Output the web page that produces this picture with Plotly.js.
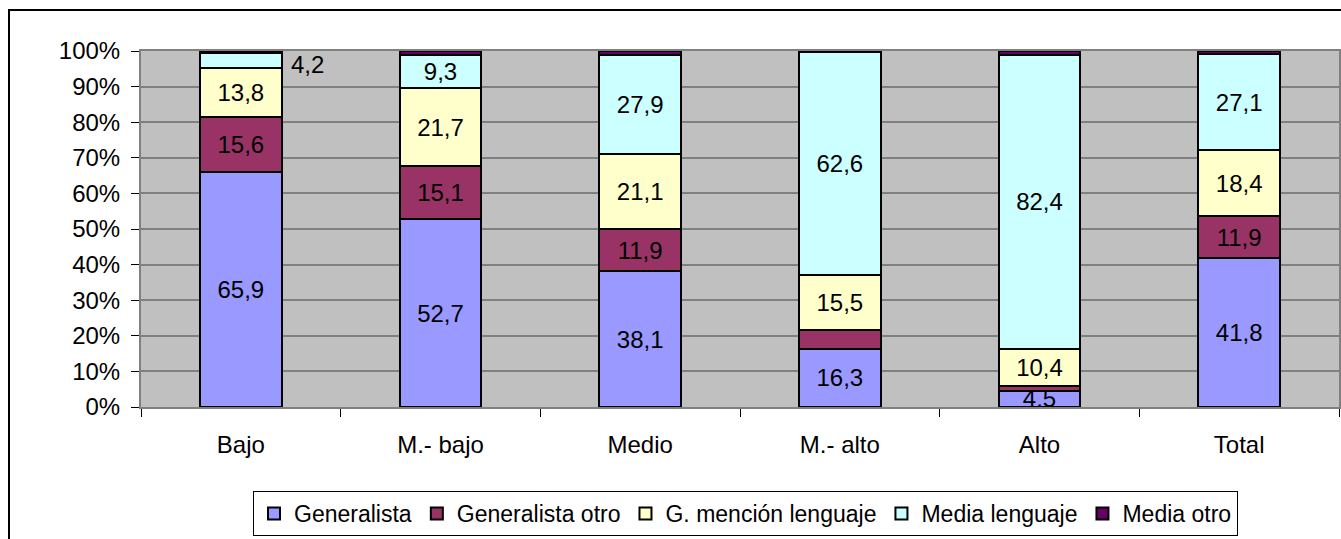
<!DOCTYPE html>
<html>
<head>
<meta charset="utf-8">
<script src="https://cdn.plot.ly/plotly-3.0.1.min.js"></script>
<style>
html,body{margin:0;padding:0;background:#fff;}
#wrap{position:relative;width:1341px;height:539px;}
#chart{width:1341px;height:539px;}
#frame{position:absolute;left:8px;top:9px;width:1400px;height:600px;border-left:2px solid #000;border-top:2px solid #000;pointer-events:none;}
</style>
</head>
<body>
<div id="wrap"><div id="chart"></div><div id="frame"></div></div>
<script>
var categories = ["Bajo", "M.- bajo", "Medio", "M.- alto", "Alto", "Total"];
var generalista      = [65.9, 52.7, 38.1, 16.3, 4.5, 41.8];
var generalistaOtro  = [15.6, 15.1, 11.9, 5.4, 1.5, 11.9];
var gMencion         = [13.8, 21.7, 21.1, 15.5, 10.4, 18.4];
var mediaLenguaje    = [4.2, 9.3, 27.9, 62.6, 82.4, 27.1];
var mediaOtro        = [0.5, 1.2, 1.0, 0.2, 1.2, 0.8];
var yTickVals = [0,10,20,30,40,50,60,70,80,90,100];
var yTickText = ["0%","10%","20%","30%","40%","50%","60%","70%","80%","90%","100%"];

// which labels are drawn inside the bars
var showGen      = [true,true,true,true,true,true];
var showGenOtro  = [true,true,true,false,false,true];
var showGMen     = [true,true,true,true,true,true];
var showMedia    = [false,true,true,true,true,true];
var showMediaO   = [false,false,false,false,false,false];

function fmt(v){ return v.toFixed(1).replace('.', ','); }
function labels(vals, show){ return vals.map(function(v,i){ return show[i] ? fmt(v) : ''; }); }

var font = "Liberation Sans, Arial, sans-serif";
var fs = 24;
function mk(name, vals, show, color){
  return {
    type: 'bar', name: name, x: categories, y: vals,
    text: labels(vals, show), textposition: 'inside', insidetextanchor: 'middle',
    textangle: 0, constraintext: 'none',
    textfont: {family: font, size: fs, color: '#000'},
    marker: {color: color, line: {color: '#000', width: 2}},
    hoverinfo: 'none'
  };
}
var traces = [
  mk('Generalista', generalista, showGen, '#9999FF'),
  mk('Generalista otro', generalistaOtro, showGenOtro, '#993366'),
  mk('G. mención lenguaje', gMencion, showGMen, '#FFFFCC'),
  mk('Media lenguaje', mediaLenguaje, showMedia, '#CCFFFF'),
  mk('Media otro', mediaOtro, showMediaO, '#660066')
];

// outside label for Bajo / Media lenguaje
var bajoBase = generalista[0] + generalistaOtro[0] + gMencion[0];
var annotations = [{
  x: categories[0], y: bajoBase + mediaLenguaje[0]/2, xref: 'x', yref: 'y',
  text: fmt(mediaLenguaje[0]), showarrow: false, xanchor: 'left', xshift: 48, yshift: -4,
  font: {family: font, size: fs, color: '#000'}
}];

var layout = {
  width: 1341, height: 539,
  margin: {l: 141, r: 2, t: 51, b: 132, autoexpand: false},
  paper_bgcolor: '#FFFFFF', plot_bgcolor: '#C0C0C0',
  barmode: 'stack', bargap: 0.59,
  showlegend: true,
  legend: {
    orientation: 'h', x: 0.5046, xanchor: 'center', y: -0.236, yanchor: 'top',
    bordercolor: '#000', borderwidth: 1, bgcolor: '#fff',
    font: {family: font, size: 23, color: '#000'},
    traceorder: 'normal', itemwidth: 30, tracegroupgap: 0
  },
  xaxis: {
    type: 'category', tickson: 'boundaries', ticks: 'outside', ticklen: 8, tickcolor: '#000',
    showgrid: false, showline: true, linecolor: '#808080', linewidth: 2,
    tickfont: {family: font, size: fs, color: '#000'}, ticklabelstandoff: 15,
    mirror: true, fixedrange: true, automargin: false
  },
  yaxis: {
    range: [0, 100], tickvals: yTickVals, ticktext: yTickText,
    ticks: 'outside', ticklen: 8, tickcolor: '#000',
    showgrid: true, gridcolor: '#808080', gridwidth: 2,
    showline: true, linecolor: '#808080', linewidth: 2, mirror: true,
    zeroline: false,
    tickfont: {family: font, size: fs, color: '#000'}, ticklabelstandoff: 6,
    fixedrange: true, automargin: false
  },
  annotations: annotations,
  font: {family: font}
};

Plotly.newPlot('chart', traces, layout, {displayModeBar: false, staticPlot: true});
</script>
</body>
</html>
